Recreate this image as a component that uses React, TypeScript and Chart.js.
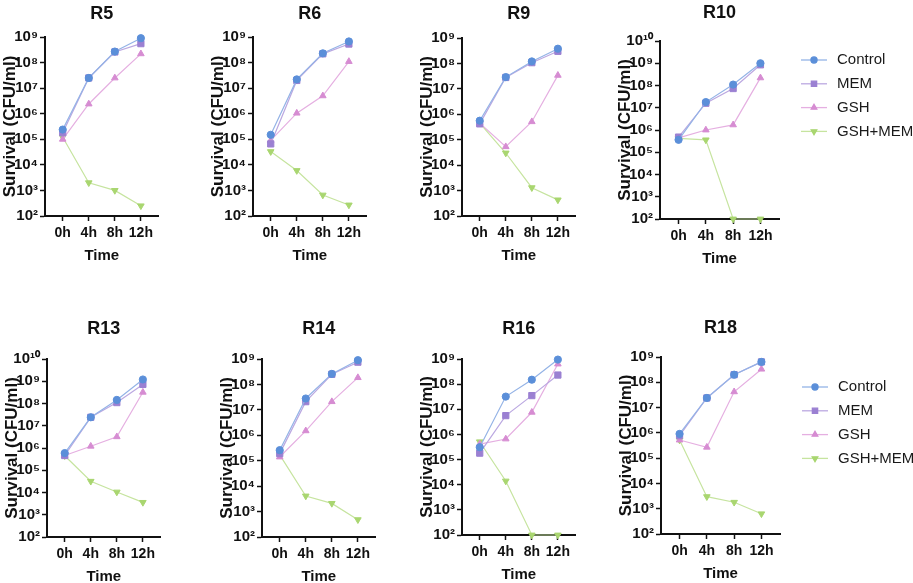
import React, { useEffect, useRef } from "react";
import { Chart, registerables } from "chart.js";
import { drawPoint } from "chart.js/helpers";

Chart.register(...registerables);

const panelNames = ["R5", "R6", "R9", "R10", "R13", "R14", "R16", "R18"];
const timeLabels = ["0h", "4h", "8h", "12h"];
const seriesNames = ["Control", "MEM", "GSH", "GSH+MEM"];
const yMaxByPanel = [1e9, 1e9, 1e9, 1e10, 1e10, 1e9, 1e9, 1e9];

// one row per panel, in panelNames order
const controlData = [
  [2.4e5, 2.5e7, 2.7e8, 9e8],
  [1.5e5, 2.2e7, 2.3e8, 6.7e8],
  [5.6e5, 2.9e7, 1.2e8, 3.8e8],
  [3.6e5, 1.8e7, 1.1e8, 1e9],
  [5.9e5, 2.4e7, 1.45e8, 1.2e9],
  [2.6e5, 2.8e7, 2.6e8, 9e8],
  [3.1e5, 3.2e7, 1.5e8, 9.5e8],
  [9.1e5, 2.4e7, 2e8, 6.4e8],
];
const memData = [
  [1.8e5, 2.5e7, 2.6e8, 5.5e8],
  [6.6e4, 2e7, 2.2e8, 5.3e8],
  [4.2e5, 2.8e7, 1.07e8, 3e8],
  [4.8e5, 1.6e7, 7.3e7, 8.5e8],
  [4.6e5, 2.4e7, 1.1e8, 7.2e8],
  [1.9e5, 2.1e7, 2.5e8, 7.5e8],
  [1.8e5, 5.6e6, 3.5e7, 2.3e8],
  [7.8e5, 2.4e7, 2e8, 6.4e8],
];
const gshData = [
  [1e5, 2.4e6, 2.5e7, 2.2e8],
  [9e4, 1.05e6, 5e6, 1.1e8],
  [4.5e5, 5.3e4, 5.1e5, 3.4e7],
  [4.4e5, 1e6, 1.7e6, 2.2e8],
  [4.6e5, 1.2e6, 3.2e6, 3.2e8],
  [1.4e5, 1.5e6, 2.1e7, 1.85e8],
  [4.1e5, 6.6e5, 7.6e6, 6.3e8],
  [5.2e5, 2.7e5, 4.2e7, 3.3e8],
];
const gshMemData = [
  [1.2e5, 2e3, 1e3, 2.5e2],
  [3.3e4, 6e3, 6.6e2, 2.7e2],
  [4.5e5, 3e4, 1.3e3, 4.3e2],
  [4.2e5, 3.6e5, 1e2, 1e2],
  [4.5e5, 3.2e4, 1.05e4, 3.6e3],
  [1.7e5, 4.1e3, 2.1e3, 4.8e2],
  [5.1e5, 1.4e4, 1e2, 1e2],
  [5.2e5, 3e3, 1.8e3, 6.3e2],
];

const FONT = "'Liberation Sans', Arial, Helvetica, sans-serif";
const INK = "#111111";
const AXIS_W = 45;
const PLOT_W = 119;
const XAXIS_H = 54;

// page positions of each panel (axis line x, row top, title centre, plot top/bottom)
const layout = [
  { axisX: 45, rowTop: 0, titleY: 14, top: 37, bottom: 216, legendY: 0 },
  { axisX: 253, rowTop: 0, titleY: 14, top: 37, bottom: 216, legendY: 0 },
  { axisX: 462, rowTop: 0, titleY: 14, top: 38, bottom: 216, legendY: 0 },
  { axisX: 660, rowTop: 0, titleY: 13, top: 41, bottom: 219, legendY: 60 },
  { axisX: 47, rowTop: 290, titleY: 329, top: 359, bottom: 537, legendY: 0 },
  { axisX: 262, rowTop: 290, titleY: 329, top: 359, bottom: 537, legendY: 0 },
  { axisX: 462, rowTop: 290, titleY: 329, top: 359, bottom: 535, legendY: 0 },
  { axisX: 661, rowTop: 290, titleY: 328, top: 357, bottom: 534, legendY: 387 },
];

const styles = [
  { line: "#94b3e6", mark: "#5b8fd9", shape: "circle", r: 3.6, rot: 0 },
  { line: "#bba8e1", mark: "#9b80d2", shape: "rect", r: 4.4, rot: 0 },
  { line: "#e5afe1", mark: "#d68cd2", shape: "triangle", r: 3.8, rot: 0 },
  { line: "#c6e49f", mark: "#a9d670", shape: "triangle", r: 3.8, rot: 180 },
];

const SUP = "⁰¹²³⁴⁵⁶⁷⁸⁹";
const sup = (n: number) =>
  String(n)
    .split("")
    .map((d) => SUP[Number(d)])
    .join("");

const sideLegend = {
  id: "sideLegend",
  afterDraw(chart: any, _args: any, opts: any) {
    if (!opts || !opts.show) return;
    const { ctx, chartArea } = chart;
    const x0 = chartArea.right + 22;
    ctx.save();
    chart.data.datasets.forEach((ds: any, i: number) => {
      const y = opts.y + i * 23.8;
      ctx.strokeStyle = ds.borderColor;
      ctx.lineWidth = 1.3;
      ctx.beginPath();
      ctx.moveTo(x0, y);
      ctx.lineTo(x0 + 26, y);
      ctx.stroke();
      ctx.fillStyle = ds.pointBackgroundColor;
      ctx.strokeStyle = ds.pointBorderColor;
      drawPoint(
        ctx,
        {
          pointStyle: ds.pointStyle,
          rotation: ds.pointRotation,
          radius: ds.pointRadius * 0.85,
          borderWidth: 1,
        } as any,
        x0 + 13,
        y
      );
      ctx.fillStyle = "#1a1a1a";
      ctx.font = `15px ${FONT}`;
      ctx.textBaseline = "middle";
      ctx.textAlign = "left";
      ctx.fillText(ds.label, x0 + 36, y);
    });
    ctx.restore();
  },
};

const Panel: React.FC<{ index: number }> = ({ index }) => {
  const canvasRef = useRef<HTMLCanvasElement | null>(null);
  const box = layout[index];
  const hasLegend = box.legendY > 0;
  const left = box.axisX - AXIS_W;
  const width = hasLegend ? 913 - left : AXIS_W + PLOT_W;
  const height = box.bottom - box.rowTop + XAXIS_H;

  useEffect(() => {
    if (!canvasRef.current) return;
    const series = [controlData, memData, gshData, gshMemData];
    const yMax = yMaxByPanel[index];
    const topExp = Math.round(Math.log10(yMax));
    const exps: number[] = [];
    for (let e = 2; e <= topExp; e++) exps.push(e);

    const tickGrid = {
      display: true,
      drawOnChartArea: false,
      drawTicks: true,
      tickLength: 5,
      tickWidth: 1.5,
      tickColor: INK,
    };
    const border = { display: true, color: INK, width: 2 };

    const chart = new Chart(canvasRef.current, {
      type: "line",
      data: {
        datasets: seriesNames.map((name, s) => ({
          label: name,
          data: series[s][index].map((v, i) => ({ x: i, y: v })),
          borderColor: styles[s].line,
          backgroundColor: styles[s].mark,
          pointBackgroundColor: styles[s].mark,
          pointBorderColor: styles[s].mark,
          pointBorderWidth: 1,
          pointStyle: styles[s].shape as any,
          pointRadius: styles[s].r,
          pointRotation: styles[s].rot,
          borderWidth: 1.2,
          tension: 0,
          clip: false as any,
        })),
      },
      options: {
        animation: false,
        responsive: true,
        maintainAspectRatio: false,
        events: [],
        layout: {
          padding: { left: 0, top: 0, bottom: 0, right: width - AXIS_W - PLOT_W },
        },
        plugins: {
          legend: { display: false },
          tooltip: { enabled: false },
          title: {
            display: true,
            text: panelNames[index],
            fullSize: false,
            color: INK,
            font: { family: FONT, size: 18, weight: "bold" },
            padding: {
              top: box.titleY - box.rowTop - 10.8,
              bottom: box.top - box.titleY - 10.8,
            },
          },
          sideLegend: { show: hasLegend, y: box.legendY - box.rowTop },
        } as any,
        scales: {
          x: {
            type: "linear",
            min: -0.68,
            max: 3.68,
            bounds: "data",
            afterBuildTicks: (scale: any) => {
              scale.ticks = timeLabels.map((_, i) => ({ value: i }));
            },
            afterFit: (scale: any) => {
              scale.height = XAXIS_H;
            },
            ticks: {
              autoSkip: false,
              maxRotation: 0,
              padding: 4,
              color: INK,
              font: { family: FONT, size: 14, weight: "bold" },
              callback: (v: any) => timeLabels[v as number] ?? "",
            },
            grid: tickGrid,
            border,
            title: {
              display: true,
              text: "Time",
              color: INK,
              font: { family: FONT, size: 15, weight: "bold" },
              padding: { top: 0, bottom: 5 },
            },
          },
          y: {
            type: "logarithmic",
            min: 100,
            max: yMax,
            bounds: "data",
            afterBuildTicks: (scale: any) => {
              scale.ticks = exps.map((e) => ({ value: Math.pow(10, e) }));
            },
            afterFit: (scale: any) => {
              scale.width = AXIS_W;
            },
            ticks: {
              autoSkip: false,
              padding: 2,
              color: INK,
              font: { family: FONT, size: 15, weight: "bold" },
              callback: (v: any) => "10" + sup(Math.round(Math.log10(Number(v)))),
            },
            grid: tickGrid,
            border,
            title: {
              display: true,
              text: "Survival (CFU/ml)",
              color: INK,
              font: { family: FONT, size: 17, weight: "bold" },
              padding: { top: 0, bottom: 0 },
            },
          },
        },
      },
      plugins: [sideLegend as any],
    });

    return () => {
      chart.destroy();
    };
  }, [index]);

  return (
    <div style={{ position: "absolute", left, top: box.rowTop, width, height }}>
      <canvas ref={canvasRef} />
    </div>
  );
};

export default function App() {
  return (
    <div
      style={{
        position: "fixed",
        left: 0,
        top: 0,
        width: 913,
        height: 583,
        overflow: "hidden",
        background: "#ffffff",
      }}
    >
      {panelNames.map((name, i) => (
        <Panel key={name} index={i} />
      ))}
    </div>
  );
}
